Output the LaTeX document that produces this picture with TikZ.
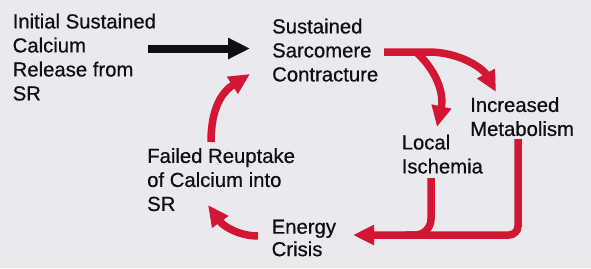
\documentclass[tikz,border=0pt]{standalone}
\usepackage{fontspec}
\setmainfont{Liberation Sans}[UprightFeatures={FakeBold=0.6}]
\usetikzlibrary{arrows.meta}
\definecolor{bg}{RGB}{232,234,238}
\definecolor{arrred}{RGB}{210,22,52}
\definecolor{ink}{RGB}{15,15,18}
\begin{document}
\begin{tikzpicture}[x=1pt,y=-1pt,
  lbl/.style={anchor=north west, inner sep=0pt, align=left, text=ink,
              font=\fontsize{20.3pt}{24pt}\selectfont},
  redarrow/.style={draw=arrred, line width=7.5pt, -{Triangle[length=21pt,width=19pt]}},
  redline/.style={draw=arrred, line width=7.5pt},
  blackarrow/.style={draw=ink, line width=8pt, -{Triangle[length=22pt,width=20pt]}}]
\fill[bg] (0,0) rectangle (591,268);
\useasboundingbox (0,0) rectangle (591,268);

% text nodes
\node[lbl] (init)   at (12.5,13.5)  {Initial Sustained\\Calcium\\Release from\\SR};
\node[lbl] (contr)  at (272,18.5)   {Sustained\\Sarcomere\\Contracture};
\node[lbl] (metab)  at (470,97)     {Increased\\Metabolism};
\node[lbl] (isch)   at (401.5,134.5){Local\\Ischemia};
\node[lbl] (reup)   at (147,148)    {Failed Reuptake\\of Calcium into\\SR};
\node[lbl, font=\fontsize{20.3pt}{22.5pt}\selectfont] (crisis) at (271.5,219.5) {Energy\\Crisis};

% connector end points
\coordinate (bk1) at (148,48.5);
\coordinate (bk2) at (250,48.5);
\coordinate (r1s) at (211,142);
\coordinate (r1e) at (250,74);
\coordinate (r2s) at (258,236);
\coordinate (r2e) at (208,205);
\coordinate (r3s) at (384,52);
\coordinate (r3m) at (428,52);
\coordinate (r3e) at (496,92);
\coordinate (r4s) at (416,52);
\coordinate (r4e) at (437,127);
\coordinate (r5s) at (518,139);
\coordinate (r5e) at (353,235);
\coordinate (r6s) at (431,178);
\coordinate (r6e) at (405,235);

% black arrow
\draw[blackarrow] (bk1) -- (bk2);

% red arrows
\draw[redarrow] (r1s) .. controls (211,108) and (222,92) .. (r1e);
\draw[redarrow] (r2s) .. controls (240,236) and (224,227) .. (r2e);
\draw[redarrow] (r3s) -- (r3m) .. controls (462,52) and (484,70) .. (r3e);
\draw[redarrow] (r4s) .. controls (438,72) and (444,95) .. (r4e);
\draw[redarrow, rounded corners=9pt] (r5s) |- (r5e);
\draw[redline, rounded corners=16pt] (r6s) |- (r6e);
\end{tikzpicture}
\end{document}
